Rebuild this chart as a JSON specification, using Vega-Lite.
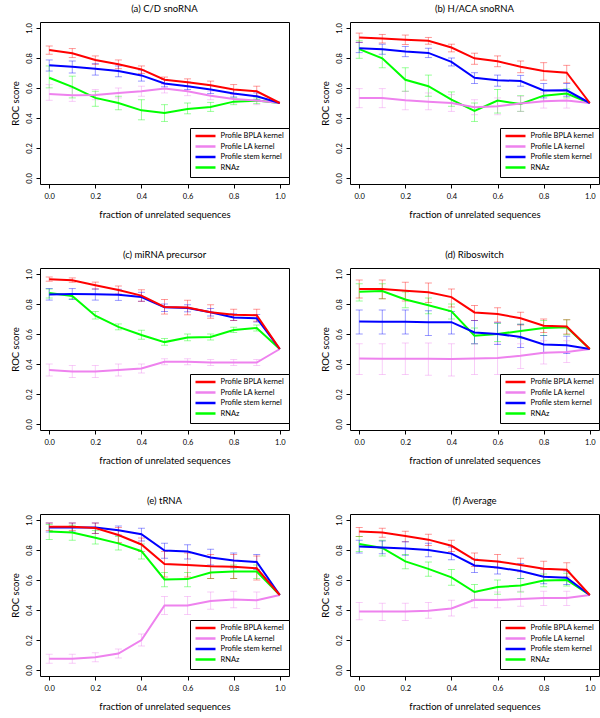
{
"$schema": "https://vega.github.io/schema/vega-lite/v6.json",
"padding": {"left": 9, "top": 3, "right": 0, "bottom": 0},
"background": "white",
"datasets": {"roc": [
{"panel":"a","method":"RNAz","x":0,"y":0.668,"lo":0.601,"hi":0.747},
{"panel":"a","method":"RNAz","x":0.1,"y":0.608,"lo":0.534,"hi":0.679},
{"panel":"a","method":"RNAz","x":0.2,"y":0.534,"lo":0.478,"hi":0.578},
{"panel":"a","method":"RNAz","x":0.3,"y":0.5,"lo":0.455,"hi":0.545},
{"panel":"a","method":"RNAz","x":0.4,"y":0.451,"lo":0.388,"hi":0.522},
{"panel":"a","method":"RNAz","x":0.5,"y":0.433,"lo":0.377,"hi":0.489},
{"panel":"a","method":"RNAz","x":0.6,"y":0.46,"lo":0.428,"hi":0.5},
{"panel":"a","method":"RNAz","x":0.7,"y":0.473,"lo":0.444,"hi":0.504},
{"panel":"a","method":"RNAz","x":0.8,"y":0.509,"lo":0.489,"hi":0.534},
{"panel":"a","method":"RNAz","x":0.9,"y":0.516,"lo":0.496,"hi":0.534},
{"panel":"a","method":"RNAz","x":1,"y":0.5,"lo":null,"hi":null},
{"panel":"a","method":"Profile LA kernel","x":0,"y":0.56,"lo":0.518,"hi":0.623},
{"panel":"a","method":"Profile LA kernel","x":0.1,"y":0.552,"lo":0.511,"hi":0.6},
{"panel":"a","method":"Profile LA kernel","x":0.2,"y":0.554,"lo":0.522,"hi":0.59},
{"panel":"a","method":"Profile LA kernel","x":0.3,"y":0.567,"lo":0.534,"hi":0.6},
{"panel":"a","method":"Profile LA kernel","x":0.4,"y":0.578,"lo":0.545,"hi":0.612},
{"panel":"a","method":"Profile LA kernel","x":0.5,"y":0.596,"lo":0.567,"hi":0.623},
{"panel":"a","method":"Profile LA kernel","x":0.6,"y":0.578,"lo":0.549,"hi":0.608},
{"panel":"a","method":"Profile LA kernel","x":0.7,"y":0.549,"lo":0.522,"hi":0.578},
{"panel":"a","method":"Profile LA kernel","x":0.8,"y":0.527,"lo":0.5,"hi":0.556},
{"panel":"a","method":"Profile LA kernel","x":0.9,"y":0.516,"lo":0.489,"hi":0.545},
{"panel":"a","method":"Profile LA kernel","x":1,"y":0.5,"lo":null,"hi":null},
{"panel":"a","method":"Profile stem kernel","x":0,"y":0.751,"lo":0.713,"hi":0.787},
{"panel":"a","method":"Profile stem kernel","x":0.1,"y":0.742,"lo":0.7,"hi":0.78},
{"panel":"a","method":"Profile stem kernel","x":0.2,"y":0.729,"lo":0.686,"hi":0.762},
{"panel":"a","method":"Profile stem kernel","x":0.3,"y":0.713,"lo":0.675,"hi":0.747},
{"panel":"a","method":"Profile stem kernel","x":0.4,"y":0.684,"lo":0.646,"hi":0.72},
{"panel":"a","method":"Profile stem kernel","x":0.5,"y":0.63,"lo":0.608,"hi":0.657},
{"panel":"a","method":"Profile stem kernel","x":0.6,"y":0.612,"lo":0.59,"hi":0.639},
{"panel":"a","method":"Profile stem kernel","x":0.7,"y":0.59,"lo":0.563,"hi":0.617},
{"panel":"a","method":"Profile stem kernel","x":0.8,"y":0.563,"lo":0.54,"hi":0.59},
{"panel":"a","method":"Profile stem kernel","x":0.9,"y":0.545,"lo":0.522,"hi":0.567},
{"panel":"a","method":"Profile stem kernel","x":1,"y":0.5,"lo":null,"hi":null},
{"panel":"a","method":"Profile BPLA kernel","x":0,"y":0.854,"lo":0.825,"hi":0.88},
{"panel":"a","method":"Profile BPLA kernel","x":0.1,"y":0.832,"lo":0.803,"hi":0.863},
{"panel":"a","method":"Profile BPLA kernel","x":0.2,"y":0.787,"lo":0.758,"hi":0.814},
{"panel":"a","method":"Profile BPLA kernel","x":0.3,"y":0.758,"lo":0.729,"hi":0.787},
{"panel":"a","method":"Profile BPLA kernel","x":0.4,"y":0.724,"lo":0.697,"hi":0.747},
{"panel":"a","method":"Profile BPLA kernel","x":0.5,"y":0.655,"lo":0.63,"hi":0.673},
{"panel":"a","method":"Profile BPLA kernel","x":0.6,"y":0.639,"lo":0.612,"hi":0.661},
{"panel":"a","method":"Profile BPLA kernel","x":0.7,"y":0.619,"lo":0.59,"hi":0.646},
{"panel":"a","method":"Profile BPLA kernel","x":0.8,"y":0.59,"lo":0.56,"hi":0.623},
{"panel":"a","method":"Profile BPLA kernel","x":0.9,"y":0.578,"lo":0.545,"hi":0.612},
{"panel":"a","method":"Profile BPLA kernel","x":1,"y":0.5,"lo":null,"hi":null},

{"panel":"b","method":"RNAz","x":0,"y":0.859,"lo":0.798,"hi":0.915},
{"panel":"b","method":"RNAz","x":0.1,"y":0.798,"lo":0.735,"hi":0.859},
{"panel":"b","method":"RNAz","x":0.2,"y":0.655,"lo":0.578,"hi":0.735},
{"panel":"b","method":"RNAz","x":0.3,"y":0.612,"lo":0.545,"hi":0.686},
{"panel":"b","method":"RNAz","x":0.4,"y":0.522,"lo":0.478,"hi":0.574},
{"panel":"b","method":"RNAz","x":0.5,"y":0.448,"lo":0.377,"hi":0.5},
{"panel":"b","method":"RNAz","x":0.6,"y":0.516,"lo":0.433,"hi":0.59},
{"panel":"b","method":"RNAz","x":0.7,"y":0.493,"lo":0.444,"hi":0.549},
{"panel":"b","method":"RNAz","x":0.8,"y":0.549,"lo":0.511,"hi":0.585},
{"panel":"b","method":"RNAz","x":0.9,"y":0.563,"lo":0.534,"hi":0.594},
{"panel":"b","method":"RNAz","x":1,"y":0.5,"lo":null,"hi":null},
{"panel":"b","method":"Profile LA kernel","x":0,"y":0.534,"lo":0.469,"hi":0.596},
{"panel":"b","method":"Profile LA kernel","x":0.1,"y":0.534,"lo":0.469,"hi":0.596},
{"panel":"b","method":"Profile LA kernel","x":0.2,"y":0.518,"lo":0.455,"hi":0.578},
{"panel":"b","method":"Profile LA kernel","x":0.3,"y":0.509,"lo":0.455,"hi":0.567},
{"panel":"b","method":"Profile LA kernel","x":0.4,"y":0.5,"lo":0.444,"hi":0.556},
{"panel":"b","method":"Profile LA kernel","x":0.5,"y":0.471,"lo":0.422,"hi":0.522},
{"panel":"b","method":"Profile LA kernel","x":0.6,"y":0.478,"lo":0.422,"hi":0.534},
{"panel":"b","method":"Profile LA kernel","x":0.7,"y":0.496,"lo":0.444,"hi":0.545},
{"panel":"b","method":"Profile LA kernel","x":0.8,"y":0.511,"lo":0.466,"hi":0.567},
{"panel":"b","method":"Profile LA kernel","x":0.9,"y":0.516,"lo":0.466,"hi":0.567},
{"panel":"b","method":"Profile LA kernel","x":1,"y":0.5,"lo":null,"hi":null},
{"panel":"b","method":"Profile stem kernel","x":0,"y":0.865,"lo":0.836,"hi":0.904},
{"panel":"b","method":"Profile stem kernel","x":0.1,"y":0.859,"lo":0.825,"hi":0.892},
{"panel":"b","method":"Profile stem kernel","x":0.2,"y":0.843,"lo":0.809,"hi":0.877},
{"panel":"b","method":"Profile stem kernel","x":0.3,"y":0.834,"lo":0.803,"hi":0.865},
{"panel":"b","method":"Profile stem kernel","x":0.4,"y":0.774,"lo":0.747,"hi":0.8},
{"panel":"b","method":"Profile stem kernel","x":0.5,"y":0.668,"lo":0.63,"hi":0.702},
{"panel":"b","method":"Profile stem kernel","x":0.6,"y":0.652,"lo":0.612,"hi":0.686},
{"panel":"b","method":"Profile stem kernel","x":0.7,"y":0.646,"lo":0.612,"hi":0.684},
{"panel":"b","method":"Profile stem kernel","x":0.8,"y":0.583,"lo":0.534,"hi":0.63},
{"panel":"b","method":"Profile stem kernel","x":0.9,"y":0.585,"lo":0.545,"hi":0.63},
{"panel":"b","method":"Profile stem kernel","x":1,"y":0.5,"lo":null,"hi":null},
{"panel":"b","method":"Profile BPLA kernel","x":0,"y":0.937,"lo":0.904,"hi":0.966},
{"panel":"b","method":"Profile BPLA kernel","x":0.1,"y":0.93,"lo":0.9,"hi":0.957},
{"panel":"b","method":"Profile BPLA kernel","x":0.2,"y":0.922,"lo":0.89,"hi":0.953},
{"panel":"b","method":"Profile BPLA kernel","x":0.3,"y":0.915,"lo":0.892,"hi":0.937},
{"panel":"b","method":"Profile BPLA kernel","x":0.4,"y":0.87,"lo":0.841,"hi":0.892},
{"panel":"b","method":"Profile BPLA kernel","x":0.5,"y":0.798,"lo":0.758,"hi":0.832},
{"panel":"b","method":"Profile BPLA kernel","x":0.6,"y":0.778,"lo":0.742,"hi":0.814},
{"panel":"b","method":"Profile BPLA kernel","x":0.7,"y":0.742,"lo":0.702,"hi":0.78},
{"panel":"b","method":"Profile BPLA kernel","x":0.8,"y":0.713,"lo":0.652,"hi":0.769},
{"panel":"b","method":"Profile BPLA kernel","x":0.9,"y":0.702,"lo":0.635,"hi":0.751},
{"panel":"b","method":"Profile BPLA kernel","x":1,"y":0.5,"lo":null,"hi":null},

{"panel":"c","method":"RNAz","x":0,"y":0.874,"lo":0.84,"hi":0.9},
{"panel":"c","method":"RNAz","x":0.1,"y":0.853,"lo":0.835,"hi":0.87},
{"panel":"c","method":"RNAz","x":0.2,"y":0.722,"lo":0.7,"hi":0.75},
{"panel":"c","method":"RNAz","x":0.3,"y":0.647,"lo":0.628,"hi":0.667},
{"panel":"c","method":"RNAz","x":0.4,"y":0.593,"lo":0.565,"hi":0.625},
{"panel":"c","method":"RNAz","x":0.5,"y":0.546,"lo":0.525,"hi":0.57},
{"panel":"c","method":"RNAz","x":0.6,"y":0.577,"lo":0.555,"hi":0.6},
{"panel":"c","method":"RNAz","x":0.7,"y":0.58,"lo":0.56,"hi":0.6},
{"panel":"c","method":"RNAz","x":0.8,"y":0.627,"lo":0.61,"hi":0.645},
{"panel":"c","method":"RNAz","x":0.9,"y":0.64,"lo":0.62,"hi":0.66},
{"panel":"c","method":"RNAz","x":1,"y":0.5,"lo":null,"hi":null},
{"panel":"c","method":"Profile LA kernel","x":0,"y":0.36,"lo":0.32,"hi":0.4},
{"panel":"c","method":"Profile LA kernel","x":0.1,"y":0.35,"lo":0.31,"hi":0.39},
{"panel":"c","method":"Profile LA kernel","x":0.2,"y":0.35,"lo":0.31,"hi":0.39},
{"panel":"c","method":"Profile LA kernel","x":0.3,"y":0.36,"lo":0.32,"hi":0.4},
{"panel":"c","method":"Profile LA kernel","x":0.4,"y":0.37,"lo":0.34,"hi":0.4},
{"panel":"c","method":"Profile LA kernel","x":0.5,"y":0.415,"lo":0.395,"hi":0.435},
{"panel":"c","method":"Profile LA kernel","x":0.6,"y":0.415,"lo":0.395,"hi":0.435},
{"panel":"c","method":"Profile LA kernel","x":0.7,"y":0.41,"lo":0.39,"hi":0.43},
{"panel":"c","method":"Profile LA kernel","x":0.8,"y":0.41,"lo":0.39,"hi":0.43},
{"panel":"c","method":"Profile LA kernel","x":0.9,"y":0.41,"lo":0.39,"hi":0.43},
{"panel":"c","method":"Profile LA kernel","x":1,"y":0.5,"lo":null,"hi":null},
{"panel":"c","method":"Profile stem kernel","x":0,"y":0.864,"lo":0.826,"hi":0.903},
{"panel":"c","method":"Profile stem kernel","x":0.1,"y":0.866,"lo":0.83,"hi":0.903},
{"panel":"c","method":"Profile stem kernel","x":0.2,"y":0.865,"lo":0.826,"hi":0.9},
{"panel":"c","method":"Profile stem kernel","x":0.3,"y":0.862,"lo":0.824,"hi":0.898},
{"panel":"c","method":"Profile stem kernel","x":0.4,"y":0.846,"lo":0.818,"hi":0.878},
{"panel":"c","method":"Profile stem kernel","x":0.5,"y":0.778,"lo":0.75,"hi":0.8},
{"panel":"c","method":"Profile stem kernel","x":0.6,"y":0.774,"lo":0.748,"hi":0.795},
{"panel":"c","method":"Profile stem kernel","x":0.7,"y":0.745,"lo":0.72,"hi":0.77},
{"panel":"c","method":"Profile stem kernel","x":0.8,"y":0.71,"lo":0.69,"hi":0.735},
{"panel":"c","method":"Profile stem kernel","x":0.9,"y":0.705,"lo":0.68,"hi":0.73},
{"panel":"c","method":"Profile stem kernel","x":1,"y":0.5,"lo":null,"hi":null},
{"panel":"c","method":"Profile BPLA kernel","x":0,"y":0.965,"lo":0.952,"hi":0.98},
{"panel":"c","method":"Profile BPLA kernel","x":0.1,"y":0.958,"lo":0.945,"hi":0.974},
{"panel":"c","method":"Profile BPLA kernel","x":0.2,"y":0.925,"lo":0.9,"hi":0.946},
{"panel":"c","method":"Profile BPLA kernel","x":0.3,"y":0.893,"lo":0.866,"hi":0.92},
{"panel":"c","method":"Profile BPLA kernel","x":0.4,"y":0.856,"lo":0.818,"hi":0.895},
{"panel":"c","method":"Profile BPLA kernel","x":0.5,"y":0.78,"lo":0.733,"hi":0.83},
{"panel":"c","method":"Profile BPLA kernel","x":0.6,"y":0.776,"lo":0.728,"hi":0.825},
{"panel":"c","method":"Profile BPLA kernel","x":0.7,"y":0.745,"lo":0.705,"hi":0.795},
{"panel":"c","method":"Profile BPLA kernel","x":0.8,"y":0.728,"lo":0.69,"hi":0.765},
{"panel":"c","method":"Profile BPLA kernel","x":0.9,"y":0.725,"lo":0.685,"hi":0.765},
{"panel":"c","method":"Profile BPLA kernel","x":1,"y":0.5,"lo":null,"hi":null},

{"panel":"d","method":"RNAz","x":0,"y":0.882,"lo":0.82,"hi":0.935},
{"panel":"d","method":"RNAz","x":0.1,"y":0.887,"lo":0.835,"hi":0.935},
{"panel":"d","method":"RNAz","x":0.2,"y":0.83,"lo":0.775,"hi":0.88},
{"panel":"d","method":"RNAz","x":0.3,"y":0.792,"lo":0.735,"hi":0.84},
{"panel":"d","method":"RNAz","x":0.4,"y":0.751,"lo":0.7,"hi":0.8},
{"panel":"d","method":"RNAz","x":0.5,"y":0.588,"lo":0.535,"hi":0.64},
{"panel":"d","method":"RNAz","x":0.6,"y":0.6,"lo":0.55,"hi":0.67},
{"panel":"d","method":"RNAz","x":0.7,"y":0.62,"lo":0.57,"hi":0.665},
{"panel":"d","method":"RNAz","x":0.8,"y":0.64,"lo":0.59,"hi":0.69},
{"panel":"d","method":"RNAz","x":0.9,"y":0.645,"lo":0.595,"hi":0.695},
{"panel":"d","method":"RNAz","x":1,"y":0.5,"lo":null,"hi":null},
{"panel":"d","method":"Profile LA kernel","x":0,"y":0.437,"lo":0.33,"hi":0.535},
{"panel":"d","method":"Profile LA kernel","x":0.1,"y":0.435,"lo":0.33,"hi":0.535},
{"panel":"d","method":"Profile LA kernel","x":0.2,"y":0.435,"lo":0.33,"hi":0.54},
{"panel":"d","method":"Profile LA kernel","x":0.3,"y":0.435,"lo":0.325,"hi":0.54},
{"panel":"d","method":"Profile LA kernel","x":0.4,"y":0.433,"lo":0.32,"hi":0.535},
{"panel":"d","method":"Profile LA kernel","x":0.5,"y":0.437,"lo":0.33,"hi":0.535},
{"panel":"d","method":"Profile LA kernel","x":0.6,"y":0.44,"lo":0.33,"hi":0.54},
{"panel":"d","method":"Profile LA kernel","x":0.7,"y":0.455,"lo":0.37,"hi":0.535},
{"panel":"d","method":"Profile LA kernel","x":0.8,"y":0.475,"lo":0.4,"hi":0.555},
{"panel":"d","method":"Profile LA kernel","x":0.9,"y":0.48,"lo":0.41,"hi":0.555},
{"panel":"d","method":"Profile LA kernel","x":1,"y":0.5,"lo":null,"hi":null},
{"panel":"d","method":"Profile stem kernel","x":0,"y":0.683,"lo":0.6,"hi":0.76},
{"panel":"d","method":"Profile stem kernel","x":0.1,"y":0.682,"lo":0.6,"hi":0.76},
{"panel":"d","method":"Profile stem kernel","x":0.2,"y":0.681,"lo":0.6,"hi":0.76},
{"panel":"d","method":"Profile stem kernel","x":0.3,"y":0.678,"lo":0.59,"hi":0.755},
{"panel":"d","method":"Profile stem kernel","x":0.4,"y":0.679,"lo":0.6,"hi":0.75},
{"panel":"d","method":"Profile stem kernel","x":0.5,"y":0.61,"lo":0.535,"hi":0.69},
{"panel":"d","method":"Profile stem kernel","x":0.6,"y":0.6,"lo":0.53,"hi":0.675},
{"panel":"d","method":"Profile stem kernel","x":0.7,"y":0.58,"lo":0.51,"hi":0.665},
{"panel":"d","method":"Profile stem kernel","x":0.8,"y":0.53,"lo":0.475,"hi":0.59},
{"panel":"d","method":"Profile stem kernel","x":0.9,"y":0.525,"lo":0.47,"hi":0.585},
{"panel":"d","method":"Profile stem kernel","x":1,"y":0.5,"lo":null,"hi":null},
{"panel":"d","method":"Profile BPLA kernel","x":0,"y":0.9,"lo":0.84,"hi":0.96},
{"panel":"d","method":"Profile BPLA kernel","x":0.1,"y":0.9,"lo":0.835,"hi":0.96},
{"panel":"d","method":"Profile BPLA kernel","x":0.2,"y":0.889,"lo":0.82,"hi":0.945},
{"panel":"d","method":"Profile BPLA kernel","x":0.3,"y":0.878,"lo":0.81,"hi":0.94},
{"panel":"d","method":"Profile BPLA kernel","x":0.4,"y":0.846,"lo":0.78,"hi":0.9},
{"panel":"d","method":"Profile BPLA kernel","x":0.5,"y":0.744,"lo":0.69,"hi":0.79},
{"panel":"d","method":"Profile BPLA kernel","x":0.6,"y":0.733,"lo":0.68,"hi":0.775},
{"panel":"d","method":"Profile BPLA kernel","x":0.7,"y":0.705,"lo":0.66,"hi":0.745},
{"panel":"d","method":"Profile BPLA kernel","x":0.8,"y":0.655,"lo":0.61,"hi":0.7},
{"panel":"d","method":"Profile BPLA kernel","x":0.9,"y":0.65,"lo":0.6,"hi":0.695},
{"panel":"d","method":"Profile BPLA kernel","x":1,"y":0.5,"lo":null,"hi":null},

{"panel":"e","method":"RNAz","x":0,"y":0.923,"lo":0.87,"hi":0.97},
{"panel":"e","method":"RNAz","x":0.1,"y":0.916,"lo":0.865,"hi":0.965},
{"panel":"e","method":"RNAz","x":0.2,"y":0.882,"lo":0.84,"hi":0.93},
{"panel":"e","method":"RNAz","x":0.3,"y":0.844,"lo":0.8,"hi":0.89},
{"panel":"e","method":"RNAz","x":0.4,"y":0.792,"lo":0.74,"hi":0.84},
{"panel":"e","method":"RNAz","x":0.5,"y":0.604,"lo":0.555,"hi":0.65},
{"panel":"e","method":"RNAz","x":0.6,"y":0.606,"lo":0.555,"hi":0.65},
{"panel":"e","method":"RNAz","x":0.7,"y":0.65,"lo":0.61,"hi":0.69},
{"panel":"e","method":"RNAz","x":0.8,"y":0.656,"lo":0.61,"hi":0.7},
{"panel":"e","method":"RNAz","x":0.9,"y":0.656,"lo":0.61,"hi":0.7},
{"panel":"e","method":"RNAz","x":1,"y":0.5,"lo":null,"hi":null},
{"panel":"e","method":"Profile LA kernel","x":0,"y":0.075,"lo":0.045,"hi":0.105},
{"panel":"e","method":"Profile LA kernel","x":0.1,"y":0.075,"lo":0.045,"hi":0.105},
{"panel":"e","method":"Profile LA kernel","x":0.2,"y":0.085,"lo":0.055,"hi":0.115},
{"panel":"e","method":"Profile LA kernel","x":0.3,"y":0.11,"lo":0.08,"hi":0.14},
{"panel":"e","method":"Profile LA kernel","x":0.4,"y":0.2,"lo":0.16,"hi":0.24},
{"panel":"e","method":"Profile LA kernel","x":0.5,"y":0.43,"lo":0.37,"hi":0.49},
{"panel":"e","method":"Profile LA kernel","x":0.6,"y":0.43,"lo":0.37,"hi":0.49},
{"panel":"e","method":"Profile LA kernel","x":0.7,"y":0.46,"lo":0.405,"hi":0.52},
{"panel":"e","method":"Profile LA kernel","x":0.8,"y":0.47,"lo":0.415,"hi":0.525},
{"panel":"e","method":"Profile LA kernel","x":0.9,"y":0.465,"lo":0.41,"hi":0.52},
{"panel":"e","method":"Profile LA kernel","x":1,"y":0.5,"lo":null,"hi":null},
{"panel":"e","method":"Profile stem kernel","x":0,"y":0.95,"lo":0.92,"hi":0.98},
{"panel":"e","method":"Profile stem kernel","x":0.1,"y":0.95,"lo":0.92,"hi":0.98},
{"panel":"e","method":"Profile stem kernel","x":0.2,"y":0.95,"lo":0.91,"hi":0.98},
{"panel":"e","method":"Profile stem kernel","x":0.3,"y":0.932,"lo":0.9,"hi":0.96},
{"panel":"e","method":"Profile stem kernel","x":0.4,"y":0.905,"lo":0.86,"hi":0.945},
{"panel":"e","method":"Profile stem kernel","x":0.5,"y":0.796,"lo":0.745,"hi":0.845},
{"panel":"e","method":"Profile stem kernel","x":0.6,"y":0.79,"lo":0.74,"hi":0.835},
{"panel":"e","method":"Profile stem kernel","x":0.7,"y":0.75,"lo":0.7,"hi":0.805},
{"panel":"e","method":"Profile stem kernel","x":0.8,"y":0.73,"lo":0.68,"hi":0.78},
{"panel":"e","method":"Profile stem kernel","x":0.9,"y":0.72,"lo":0.67,"hi":0.77},
{"panel":"e","method":"Profile stem kernel","x":1,"y":0.5,"lo":null,"hi":null},
{"panel":"e","method":"Profile BPLA kernel","x":0,"y":0.955,"lo":0.93,"hi":0.98},
{"panel":"e","method":"Profile BPLA kernel","x":0.1,"y":0.955,"lo":0.93,"hi":0.98},
{"panel":"e","method":"Profile BPLA kernel","x":0.2,"y":0.946,"lo":0.91,"hi":0.98},
{"panel":"e","method":"Profile BPLA kernel","x":0.3,"y":0.9,"lo":0.85,"hi":0.95},
{"panel":"e","method":"Profile BPLA kernel","x":0.4,"y":0.837,"lo":0.79,"hi":0.88},
{"panel":"e","method":"Profile BPLA kernel","x":0.5,"y":0.706,"lo":0.62,"hi":0.79},
{"panel":"e","method":"Profile BPLA kernel","x":0.6,"y":0.7,"lo":0.62,"hi":0.78},
{"panel":"e","method":"Profile BPLA kernel","x":0.7,"y":0.692,"lo":0.61,"hi":0.77},
{"panel":"e","method":"Profile BPLA kernel","x":0.8,"y":0.688,"lo":0.61,"hi":0.77},
{"panel":"e","method":"Profile BPLA kernel","x":0.9,"y":0.678,"lo":0.6,"hi":0.76},
{"panel":"e","method":"Profile BPLA kernel","x":1,"y":0.5,"lo":null,"hi":null},

{"panel":"f","method":"RNAz","x":0,"y":0.84,"lo":0.79,"hi":0.89},
{"panel":"f","method":"RNAz","x":0.1,"y":0.814,"lo":0.76,"hi":0.865},
{"panel":"f","method":"RNAz","x":0.2,"y":0.724,"lo":0.675,"hi":0.77},
{"panel":"f","method":"RNAz","x":0.3,"y":0.674,"lo":0.625,"hi":0.72},
{"panel":"f","method":"RNAz","x":0.4,"y":0.618,"lo":0.565,"hi":0.67},
{"panel":"f","method":"RNAz","x":0.5,"y":0.52,"lo":0.47,"hi":0.57},
{"panel":"f","method":"RNAz","x":0.6,"y":0.553,"lo":0.505,"hi":0.6},
{"panel":"f","method":"RNAz","x":0.7,"y":0.563,"lo":0.52,"hi":0.61},
{"panel":"f","method":"RNAz","x":0.8,"y":0.597,"lo":0.555,"hi":0.64},
{"panel":"f","method":"RNAz","x":0.9,"y":0.6,"lo":0.56,"hi":0.645},
{"panel":"f","method":"RNAz","x":1,"y":0.5,"lo":null,"hi":null},
{"panel":"f","method":"Profile LA kernel","x":0,"y":0.39,"lo":0.335,"hi":0.45},
{"panel":"f","method":"Profile LA kernel","x":0.1,"y":0.39,"lo":0.33,"hi":0.445},
{"panel":"f","method":"Profile LA kernel","x":0.2,"y":0.39,"lo":0.33,"hi":0.445},
{"panel":"f","method":"Profile LA kernel","x":0.3,"y":0.395,"lo":0.345,"hi":0.45},
{"panel":"f","method":"Profile LA kernel","x":0.4,"y":0.41,"lo":0.36,"hi":0.465},
{"panel":"f","method":"Profile LA kernel","x":0.5,"y":0.468,"lo":0.415,"hi":0.52},
{"panel":"f","method":"Profile LA kernel","x":0.6,"y":0.467,"lo":0.415,"hi":0.52},
{"panel":"f","method":"Profile LA kernel","x":0.7,"y":0.474,"lo":0.425,"hi":0.525},
{"panel":"f","method":"Profile LA kernel","x":0.8,"y":0.48,"lo":0.43,"hi":0.525},
{"panel":"f","method":"Profile LA kernel","x":0.9,"y":0.48,"lo":0.43,"hi":0.525},
{"panel":"f","method":"Profile LA kernel","x":1,"y":0.5,"lo":null,"hi":null},
{"panel":"f","method":"Profile stem kernel","x":0,"y":0.824,"lo":0.78,"hi":0.865},
{"panel":"f","method":"Profile stem kernel","x":0.1,"y":0.817,"lo":0.775,"hi":0.86},
{"panel":"f","method":"Profile stem kernel","x":0.2,"y":0.81,"lo":0.765,"hi":0.855},
{"panel":"f","method":"Profile stem kernel","x":0.3,"y":0.8,"lo":0.755,"hi":0.845},
{"panel":"f","method":"Profile stem kernel","x":0.4,"y":0.776,"lo":0.735,"hi":0.82},
{"panel":"f","method":"Profile stem kernel","x":0.5,"y":0.697,"lo":0.65,"hi":0.74},
{"panel":"f","method":"Profile stem kernel","x":0.6,"y":0.683,"lo":0.64,"hi":0.725},
{"panel":"f","method":"Profile stem kernel","x":0.7,"y":0.66,"lo":0.61,"hi":0.71},
{"panel":"f","method":"Profile stem kernel","x":0.8,"y":0.622,"lo":0.575,"hi":0.67},
{"panel":"f","method":"Profile stem kernel","x":0.9,"y":0.615,"lo":0.57,"hi":0.66},
{"panel":"f","method":"Profile stem kernel","x":1,"y":0.5,"lo":null,"hi":null},
{"panel":"f","method":"Profile BPLA kernel","x":0,"y":0.923,"lo":0.89,"hi":0.95},
{"panel":"f","method":"Profile BPLA kernel","x":0.1,"y":0.916,"lo":0.885,"hi":0.945},
{"panel":"f","method":"Profile BPLA kernel","x":0.2,"y":0.894,"lo":0.855,"hi":0.925},
{"panel":"f","method":"Profile BPLA kernel","x":0.3,"y":0.869,"lo":0.83,"hi":0.905},
{"panel":"f","method":"Profile BPLA kernel","x":0.4,"y":0.828,"lo":0.79,"hi":0.865},
{"panel":"f","method":"Profile BPLA kernel","x":0.5,"y":0.735,"lo":0.69,"hi":0.78},
{"panel":"f","method":"Profile BPLA kernel","x":0.6,"y":0.724,"lo":0.68,"hi":0.77},
{"panel":"f","method":"Profile BPLA kernel","x":0.7,"y":0.7,"lo":0.655,"hi":0.745},
{"panel":"f","method":"Profile BPLA kernel","x":0.8,"y":0.675,"lo":0.625,"hi":0.725},
{"panel":"f","method":"Profile BPLA kernel","x":0.9,"y":0.668,"lo":0.62,"hi":0.715},
{"panel":"f","method":"Profile BPLA kernel","x":1,"y":0.5,"lo":null,"hi":null}
]},
"columns": 2,
"spacing": {"row": 29, "column": 29},
"resolve": {"legend": {"color": "independent"}},
"concat": [
{"title": "(a)  C/D snoRNA", "width": 249, "height": 162, "data": {"name": "roc"}, "transform": [{"filter": "datum.panel == 'a'"}],
 "encoding": {"x": {"field": "x", "type": "quantitative", "scale": {"domain": [-0.04, 1.04], "nice": false, "zero": false}, "axis": {"title": "fraction of unrelated sequences", "values": [0, 0.2, 0.4, 0.6, 0.8, 1], "format": ".1f"}},
  "color": {"field": "method", "type": "nominal", "scale": {"domain": ["Profile BPLA kernel", "Profile LA kernel", "Profile stem kernel", "RNAz"], "range": ["#ff0000", "#ee82ee", "#0000ff", "#00ff00"]}, "legend": {"orient": "none", "legendX": 150, "legendY": 106, "title": null}}},
 "layer": [
  {"mark": {"type": "rule", "opacity": 0.4, "strokeWidth": 1}, "encoding": {"y": {"field": "lo", "type": "quantitative", "scale": {"domain": [-0.04, 1.04], "nice": false, "zero": false}, "axis": {"title": "ROC score", "values": [0, 0.2, 0.4, 0.6, 0.8, 1], "format": ".1f"}}, "y2": {"field": "hi"}}},
  {"mark": {"type": "tick", "orient": "horizontal", "size": 7, "thickness": 1, "opacity": 0.4}, "encoding": {"y": {"field": "lo", "type": "quantitative", "axis": {"title": "ROC score", "values": [0, 0.2, 0.4, 0.6, 0.8, 1], "format": ".1f"}}}},
  {"mark": {"type": "tick", "orient": "horizontal", "size": 7, "thickness": 1, "opacity": 0.4}, "encoding": {"y": {"field": "hi", "type": "quantitative", "axis": {"title": "ROC score", "values": [0, 0.2, 0.4, 0.6, 0.8, 1], "format": ".1f"}}}},
  {"mark": {"type": "line", "strokeWidth": 2}, "encoding": {"y": {"field": "y", "type": "quantitative", "axis": {"title": "ROC score", "values": [0, 0.2, 0.4, 0.6, 0.8, 1], "format": ".1f"}}}}
 ]},
{"title": "(b)  H/ACA snoRNA", "width": 249, "height": 162, "data": {"name": "roc"}, "transform": [{"filter": "datum.panel == 'b'"}],
 "encoding": {"x": {"field": "x", "type": "quantitative", "scale": {"domain": [-0.04, 1.04], "nice": false, "zero": false}, "axis": {"title": "fraction of unrelated sequences", "values": [0, 0.2, 0.4, 0.6, 0.8, 1], "format": ".1f"}},
  "color": {"field": "method", "type": "nominal", "scale": {"domain": ["Profile BPLA kernel", "Profile LA kernel", "Profile stem kernel", "RNAz"], "range": ["#ff0000", "#ee82ee", "#0000ff", "#00ff00"]}, "legend": {"orient": "none", "legendX": 150, "legendY": 106, "title": null}}},
 "layer": [
  {"mark": {"type": "rule", "opacity": 0.4, "strokeWidth": 1}, "encoding": {"y": {"field": "lo", "type": "quantitative", "scale": {"domain": [-0.04, 1.04], "nice": false, "zero": false}, "axis": {"title": "ROC score", "values": [0, 0.2, 0.4, 0.6, 0.8, 1], "format": ".1f"}}, "y2": {"field": "hi"}}},
  {"mark": {"type": "tick", "orient": "horizontal", "size": 7, "thickness": 1, "opacity": 0.4}, "encoding": {"y": {"field": "lo", "type": "quantitative", "axis": {"title": "ROC score", "values": [0, 0.2, 0.4, 0.6, 0.8, 1], "format": ".1f"}}}},
  {"mark": {"type": "tick", "orient": "horizontal", "size": 7, "thickness": 1, "opacity": 0.4}, "encoding": {"y": {"field": "hi", "type": "quantitative", "axis": {"title": "ROC score", "values": [0, 0.2, 0.4, 0.6, 0.8, 1], "format": ".1f"}}}},
  {"mark": {"type": "line", "strokeWidth": 2}, "encoding": {"y": {"field": "y", "type": "quantitative", "axis": {"title": "ROC score", "values": [0, 0.2, 0.4, 0.6, 0.8, 1], "format": ".1f"}}}}
 ]},
{"title": "(c)  miRNA precursor", "width": 249, "height": 162, "data": {"name": "roc"}, "transform": [{"filter": "datum.panel == 'c'"}],
 "encoding": {"x": {"field": "x", "type": "quantitative", "scale": {"domain": [-0.04, 1.04], "nice": false, "zero": false}, "axis": {"title": "fraction of unrelated sequences", "values": [0, 0.2, 0.4, 0.6, 0.8, 1], "format": ".1f"}},
  "color": {"field": "method", "type": "nominal", "scale": {"domain": ["Profile BPLA kernel", "Profile LA kernel", "Profile stem kernel", "RNAz"], "range": ["#ff0000", "#ee82ee", "#0000ff", "#00ff00"]}, "legend": {"orient": "none", "legendX": 150, "legendY": 106, "title": null}}},
 "layer": [
  {"mark": {"type": "rule", "opacity": 0.4, "strokeWidth": 1}, "encoding": {"y": {"field": "lo", "type": "quantitative", "scale": {"domain": [-0.04, 1.04], "nice": false, "zero": false}, "axis": {"title": "ROC score", "values": [0, 0.2, 0.4, 0.6, 0.8, 1], "format": ".1f"}}, "y2": {"field": "hi"}}},
  {"mark": {"type": "tick", "orient": "horizontal", "size": 7, "thickness": 1, "opacity": 0.4}, "encoding": {"y": {"field": "lo", "type": "quantitative", "axis": {"title": "ROC score", "values": [0, 0.2, 0.4, 0.6, 0.8, 1], "format": ".1f"}}}},
  {"mark": {"type": "tick", "orient": "horizontal", "size": 7, "thickness": 1, "opacity": 0.4}, "encoding": {"y": {"field": "hi", "type": "quantitative", "axis": {"title": "ROC score", "values": [0, 0.2, 0.4, 0.6, 0.8, 1], "format": ".1f"}}}},
  {"mark": {"type": "line", "strokeWidth": 2}, "encoding": {"y": {"field": "y", "type": "quantitative", "axis": {"title": "ROC score", "values": [0, 0.2, 0.4, 0.6, 0.8, 1], "format": ".1f"}}}}
 ]},
{"title": "(d)  Riboswitch", "width": 249, "height": 162, "data": {"name": "roc"}, "transform": [{"filter": "datum.panel == 'd'"}],
 "encoding": {"x": {"field": "x", "type": "quantitative", "scale": {"domain": [-0.04, 1.04], "nice": false, "zero": false}, "axis": {"title": "fraction of unrelated sequences", "values": [0, 0.2, 0.4, 0.6, 0.8, 1], "format": ".1f"}},
  "color": {"field": "method", "type": "nominal", "scale": {"domain": ["Profile BPLA kernel", "Profile LA kernel", "Profile stem kernel", "RNAz"], "range": ["#ff0000", "#ee82ee", "#0000ff", "#00ff00"]}, "legend": {"orient": "none", "legendX": 150, "legendY": 106, "title": null}}},
 "layer": [
  {"mark": {"type": "rule", "opacity": 0.4, "strokeWidth": 1}, "encoding": {"y": {"field": "lo", "type": "quantitative", "scale": {"domain": [-0.04, 1.04], "nice": false, "zero": false}, "axis": {"title": "ROC score", "values": [0, 0.2, 0.4, 0.6, 0.8, 1], "format": ".1f"}}, "y2": {"field": "hi"}}},
  {"mark": {"type": "tick", "orient": "horizontal", "size": 7, "thickness": 1, "opacity": 0.4}, "encoding": {"y": {"field": "lo", "type": "quantitative", "axis": {"title": "ROC score", "values": [0, 0.2, 0.4, 0.6, 0.8, 1], "format": ".1f"}}}},
  {"mark": {"type": "tick", "orient": "horizontal", "size": 7, "thickness": 1, "opacity": 0.4}, "encoding": {"y": {"field": "hi", "type": "quantitative", "axis": {"title": "ROC score", "values": [0, 0.2, 0.4, 0.6, 0.8, 1], "format": ".1f"}}}},
  {"mark": {"type": "line", "strokeWidth": 2}, "encoding": {"y": {"field": "y", "type": "quantitative", "axis": {"title": "ROC score", "values": [0, 0.2, 0.4, 0.6, 0.8, 1], "format": ".1f"}}}}
 ]},
{"title": "(e)  tRNA", "width": 249, "height": 162, "data": {"name": "roc"}, "transform": [{"filter": "datum.panel == 'e'"}],
 "encoding": {"x": {"field": "x", "type": "quantitative", "scale": {"domain": [-0.04, 1.04], "nice": false, "zero": false}, "axis": {"title": "fraction of unrelated sequences", "values": [0, 0.2, 0.4, 0.6, 0.8, 1], "format": ".1f"}},
  "color": {"field": "method", "type": "nominal", "scale": {"domain": ["Profile BPLA kernel", "Profile LA kernel", "Profile stem kernel", "RNAz"], "range": ["#ff0000", "#ee82ee", "#0000ff", "#00ff00"]}, "legend": {"orient": "none", "legendX": 150, "legendY": 106, "title": null}}},
 "layer": [
  {"mark": {"type": "rule", "opacity": 0.4, "strokeWidth": 1}, "encoding": {"y": {"field": "lo", "type": "quantitative", "scale": {"domain": [-0.04, 1.04], "nice": false, "zero": false}, "axis": {"title": "ROC score", "values": [0, 0.2, 0.4, 0.6, 0.8, 1], "format": ".1f"}}, "y2": {"field": "hi"}}},
  {"mark": {"type": "tick", "orient": "horizontal", "size": 7, "thickness": 1, "opacity": 0.4}, "encoding": {"y": {"field": "lo", "type": "quantitative", "axis": {"title": "ROC score", "values": [0, 0.2, 0.4, 0.6, 0.8, 1], "format": ".1f"}}}},
  {"mark": {"type": "tick", "orient": "horizontal", "size": 7, "thickness": 1, "opacity": 0.4}, "encoding": {"y": {"field": "hi", "type": "quantitative", "axis": {"title": "ROC score", "values": [0, 0.2, 0.4, 0.6, 0.8, 1], "format": ".1f"}}}},
  {"mark": {"type": "line", "strokeWidth": 2}, "encoding": {"y": {"field": "y", "type": "quantitative", "axis": {"title": "ROC score", "values": [0, 0.2, 0.4, 0.6, 0.8, 1], "format": ".1f"}}}}
 ]},
{"title": "(f)  Average", "width": 249, "height": 162, "data": {"name": "roc"}, "transform": [{"filter": "datum.panel == 'f'"}],
 "encoding": {"x": {"field": "x", "type": "quantitative", "scale": {"domain": [-0.04, 1.04], "nice": false, "zero": false}, "axis": {"title": "fraction of unrelated sequences", "values": [0, 0.2, 0.4, 0.6, 0.8, 1], "format": ".1f"}},
  "color": {"field": "method", "type": "nominal", "scale": {"domain": ["Profile BPLA kernel", "Profile LA kernel", "Profile stem kernel", "RNAz"], "range": ["#ff0000", "#ee82ee", "#0000ff", "#00ff00"]}, "legend": {"orient": "none", "legendX": 150, "legendY": 106, "title": null}}},
 "layer": [
  {"mark": {"type": "rule", "opacity": 0.4, "strokeWidth": 1}, "encoding": {"y": {"field": "lo", "type": "quantitative", "scale": {"domain": [-0.04, 1.04], "nice": false, "zero": false}, "axis": {"title": "ROC score", "values": [0, 0.2, 0.4, 0.6, 0.8, 1], "format": ".1f"}}, "y2": {"field": "hi"}}},
  {"mark": {"type": "tick", "orient": "horizontal", "size": 7, "thickness": 1, "opacity": 0.4}, "encoding": {"y": {"field": "lo", "type": "quantitative", "axis": {"title": "ROC score", "values": [0, 0.2, 0.4, 0.6, 0.8, 1], "format": ".1f"}}}},
  {"mark": {"type": "tick", "orient": "horizontal", "size": 7, "thickness": 1, "opacity": 0.4}, "encoding": {"y": {"field": "hi", "type": "quantitative", "axis": {"title": "ROC score", "values": [0, 0.2, 0.4, 0.6, 0.8, 1], "format": ".1f"}}}},
  {"mark": {"type": "line", "strokeWidth": 2}, "encoding": {"y": {"field": "y", "type": "quantitative", "axis": {"title": "ROC score", "values": [0, 0.2, 0.4, 0.6, 0.8, 1], "format": ".1f"}}}}
 ]}
],
"config": {
 "font": "Lato",
 "view": {"stroke": "black", "strokeWidth": 1},
 "axis": {"grid": false, "domain": false, "tickColor": "black", "tickSize": 4, "labelFontSize": 7.5, "labelColor": "black", "titleFontSize": 9.5, "titleFontWeight": "normal", "titleColor": "black", "labelPadding": 4},
 "axisX": {"titlePadding": 10},
 "axisY": {"labelAngle": -90, "labelAlign": "center", "labelBaseline": "bottom", "titlePadding": 5, "labelPadding": 3},
 "title": {"fontSize": 9.5, "fontWeight": "normal", "offset": 9, "color": "black"},
 "legend": {"strokeColor": "black", "fillColor": "white", "padding": 4, "labelFontSize": 7.5, "labelColor": "black", "symbolType": "M-4,0H4", "symbolSize": 25, "symbolStrokeWidth": 2.5, "symbolOpacity": 1, "symbolOffset": 7.5, "labelOffset": 11, "rowPadding": 0.5, "cornerRadius": 0}
}
}
